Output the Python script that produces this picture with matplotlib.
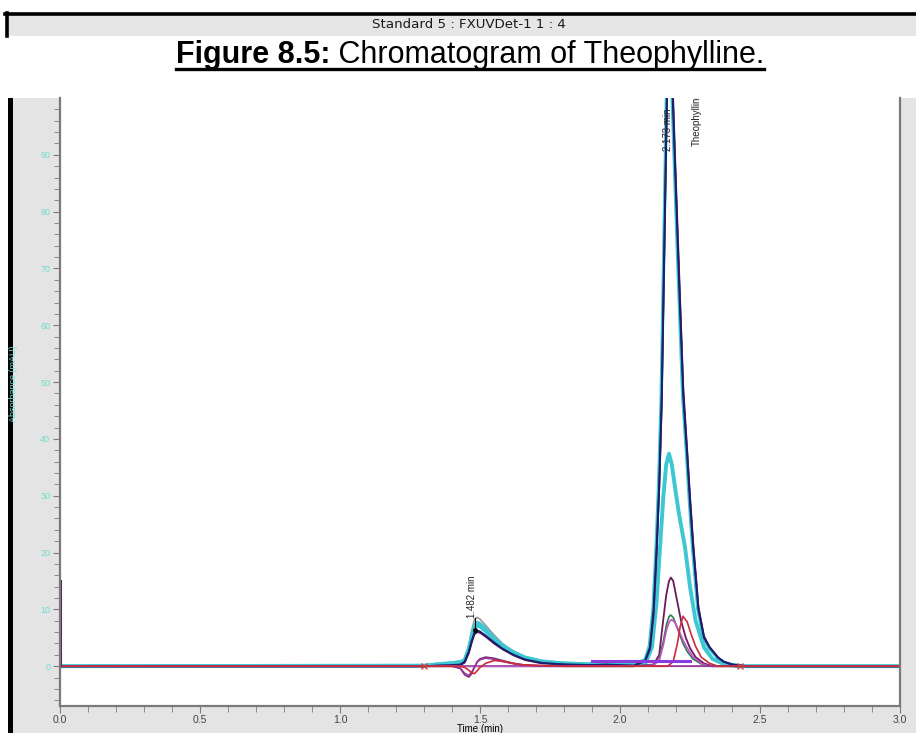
import matplotlib
matplotlib.use("Agg")
import matplotlib.pyplot as plt
import numpy as np
from matplotlib.patches import Rectangle
from matplotlib.lines import Line2D

plt.rcParams['font.family'] = ['Liberation Sans', 'DejaVu Sans']

# ---------------- data ----------------
header_text = "Standard 5 : FXUVDet-1 1 : 4"
title_bold = "Figure 8.5:"
title_rest = " Chromatogram of Theophylline."
x_ticks = [0.0, 0.5, 1.0, 1.5, 2.0, 2.5, 3.0]
y_ticks = [0, 10, 20, 30, 40, 50, 60, 70, 80, 90]

# peak-1 region (~1.48 min), shared times
t1 = [0.0, 1.30, 1.35, 1.40, 1.43, 1.445, 1.46, 1.47, 1.48, 1.49, 1.50, 1.52, 1.55,
      1.58, 1.62, 1.66, 1.72, 1.80, 1.90, 1.95, 2.00, 2.05]
navy_p1   = [0, 0, 0.1, 0.2, 0.3, 0.8, 2.6, 4.4, 5.9, 6.3, 6.1, 5.4, 4.2, 3.1, 2.0, 1.2, 0.6, 0.3, 0.2, 0.3, 0.2, 0.1]
navy2_p1  = [0, 0, 0.1, 0.1, 0.2, 0.6, 2.3, 4.1, 5.6, 6.0, 5.9, 5.2, 4.0, 3.0, 1.9, 1.1, 0.5, 0.3, 0.2, 0.2, 0.1, 0.1]
cyan_p1   = [0, 0.1, 0.4, 0.6, 0.8, 1.1, 3.2, 5.4, 7.1, 7.7, 7.5, 6.6, 5.0, 3.7, 2.5, 1.6, 0.9, 0.5, 0.4, 0.8, 0.5, 0.2]
cyan2_p1  = [0, 0.1, 0.3, 0.5, 0.7, 1.0, 3.0, 5.0, 6.7, 7.2, 7.0, 6.2, 4.8, 3.5, 2.4, 1.5, 0.8, 0.5, 0.3, 0.6, 0.4, 0.2]
gray_p1   = [0, 0, 0.1, 0.3, 0.5, 1.0, 3.5, 6.2, 8.2, 8.6, 8.3, 7.2, 5.5, 4.0, 2.6, 1.6, 0.8, 0.4, 0.2, 0.2, 0.1, 0.1]
purple_p1 = [0, 0, 0, 0, -0.4, -1.5, -1.9, -1.3, -0.2, 0.8, 1.3, 1.6, 1.4, 1.0, 0.5, 0.2, 0.1, 0, 0, 0, 0, 0]
violet_p1 = [0, 0, 0, 0, -0.3, -1.2, -1.6, -1.0, -0.1, 0.7, 1.1, 1.4, 1.2, 0.8, 0.4, 0.2, 0.1, 0, 0, 0, 0, 0]
red_p1    = [0, 0, 0, 0, 0, -0.2, -0.7, -1.2, -1.3, -0.8, -0.2, 0.5, 1.0, 0.9, 0.5, 0.2, 0.1, 0, 0, 0, 0, 0]

# peak-2 region (~2.17 min), each trace with its own times
navy_t2 = [2.05, 2.09, 2.107, 2.12, 2.131, 2.14, 2.149, 2.158, 2.167, 2.174, 2.18, 2.189, 2.20,
           2.21, 2.226, 2.24, 2.25, 2.261, 2.28, 2.30, 2.32, 2.35, 2.37, 2.40, 2.45, 3.0]
navy_p2  = [0.1, 1.0, 3.3, 10, 21, 32, 47.5, 73, 99, 120, 117, 99, 83, 69, 47.5, 37, 29, 21, 10, 5, 3.3, 1.5, 0.8, 0.3, 0, 0]
navy2_p2 = [0.1, 0.9, 3.0, 9, 20, 31, 46, 72, 98, 119, 119, 101, 85, 71, 49, 38, 30, 22, 10.5, 5.3, 3.4, 1.6, 0.8, 0.3, 0, 0]
cyanT_t2 = [2.05, 2.09, 2.105, 2.118, 2.129, 2.138, 2.147, 2.156, 2.165, 2.172, 2.178, 2.187, 2.198,
            2.208, 2.224, 2.238, 2.248, 2.259, 2.278, 2.298, 2.318, 2.35, 2.37, 2.40, 2.45, 3.0]
cyanT_p2 = [0.2, 1.2, 3.6, 10, 21, 32, 47, 72, 98, 118, 116, 99, 83, 69, 47.5, 37, 29, 21, 10, 5, 3.2, 1.4, 0.7, 0.3, 0, 0]

cyan37_t2 = [2.05, 2.09, 2.114, 2.13, 2.143, 2.155, 2.165, 2.175, 2.185, 2.195, 2.21, 2.232,
             2.25, 2.27, 2.30, 2.33, 2.37, 2.42, 3.0]
cyan37_p2 = [0.2, 0.4, 3.3, 11, 21, 30, 35.5, 37.4, 35.5, 32, 27, 21, 14, 8, 3.3, 1.3, 0.4, 0, 0]

purple_t2 = [2.05, 2.12, 2.14, 2.154, 2.165, 2.175, 2.182, 2.19, 2.20, 2.218, 2.235, 2.25, 2.27, 2.30, 2.33, 3.0]
purple_p2 = [0, 0.3, 2.0, 8.0, 12.5, 15.0, 15.6, 15.0, 12.5, 8.0, 5.0, 3.2, 1.6, 0.5, 0, 0]

green_t2 = [2.05, 2.12, 2.14, 2.155, 2.167, 2.175, 2.181, 2.19, 2.21, 2.225, 2.24, 2.26, 2.29, 2.32, 3.0]
green_p2 = [0, 0.2, 1.2, 4.5, 7.5, 8.7, 9.0, 8.6, 6.0, 4.0, 2.6, 1.3, 0.4, 0, 0]

magenta_t2 = [2.05, 2.12, 2.14, 2.155, 2.167, 2.177, 2.184, 2.195, 2.21, 2.225, 2.24, 2.26, 2.29, 2.32, 3.0]
magenta_p2 = [0, 0.2, 1.0, 3.8, 6.6, 7.9, 8.2, 7.8, 6.3, 4.6, 3.2, 1.7, 0.5, 0, 0]

red_t2 = [2.05, 2.17, 2.19, 2.205, 2.215, 2.225, 2.24, 2.255, 2.27, 2.29, 2.32, 2.35, 3.0]
red_p2 = [0, 0, 0.8, 4.0, 7.0, 8.8, 7.8, 5.5, 3.5, 1.6, 0.5, 0, 0]

flat_t2 = [2.05, 3.0]
flat_p2 = [0, 0]

violet_bar_t = [1.90, 2.25]
violet_bar_y = [0.95, 0.95]

x_marks_t = [1.30, 2.43]
x_marks_y = [0, 0]

spike_t = [0.005, 0.005]
spike_y = [0, 15]

ann1 = ("1.482 min", 1.47, 8.4)
ann2 = ("2.173 min", 2.171, 90.6)
ann3 = ("Theophylline", 2.275, 91.5)

# ---------------- figure ----------------
W, H = 916, 733
fig = plt.figure(figsize=(W / 100, H / 100), dpi=100)
fig.patch.set_facecolor('white')

def fx(px):
    return px / W

def fy(py):
    return 1 - py / H

# header bar
fig.patches.append(Rectangle((fx(6), fy(36)), fx(910), fy(15) - fy(36), transform=fig.transFigure,
                             facecolor='#e6e6e6', edgecolor='none', zorder=-5))
fig.add_artist(Line2D([fx(5), fx(916)], [fy(14), fy(14)], transform=fig.transFigure, color='black', lw=2.6))
fig.add_artist(Line2D([fx(7), fx(7)], [fy(13), fy(36)], transform=fig.transFigure, color='black', lw=2.6))
fig.text(fx(469), fy(25), header_text, ha='center', va='center', fontsize=9.6,
         family=['DejaVu Sans'], color='#1a1a1a')

# title with bold prefix, underline
TS = 22
t_b = fig.text(0, fy(63), title_bold, ha='left', va='baseline', fontsize=TS, fontweight='bold', color='black')
t_r = fig.text(0, fy(63), title_rest, ha='left', va='baseline', fontsize=TS, color='black')
fig.canvas.draw()
r = fig.canvas.get_renderer()
wb = t_b.get_window_extent(r).width
wr = t_r.get_window_extent(r).width
x0 = 470 - (wb + wr) / 2
t_b.set_x(x0 / W)
t_r.set_x((x0 + wb) / W)
fig.add_artist(Line2D([x0 / W, (x0 + wb + wr) / W], [fy(69), fy(69)], transform=fig.transFigure,
                      color='black', lw=2.4))

# gray chart panel and black left band
fig.patches.append(Rectangle((fx(13), 0), fx(903), fy(98), transform=fig.transFigure,
                             facecolor='#e4e4e4', edgecolor='none', zorder=-5))
fig.patches.append(Rectangle((fx(8), 0), fx(5), fy(98), transform=fig.transFigure,
                             facecolor='black', edgecolor='none', zorder=-5))

ax = fig.add_axes([fx(60), fy(706), fx(840), fy(98) - fy(706)])
ax.set_facecolor('white')
ax.set_xlim(0, 3.0)
ax.set_ylim(-7, 100)

for s in ['left', 'bottom', 'right']:
    ax.spines[s].set_color('#7a7a7a')
    ax.spines[s].set_linewidth(1.6)
ax.spines['top'].set_visible(False)

ax.set_xticks(x_ticks)
ax.set_xticklabels([f"{v:.1f}" for v in x_ticks])
ax.set_xticks(np.round(np.arange(0, 3.01, 0.1), 2), minor=True)
ax.set_yticks(y_ticks)
ax.set_yticks(np.arange(-6, 100, 2), minor=True)
ax.tick_params(axis='x', which='major', length=5, color='#7a7a7a', labelsize=7.5, labelcolor='#444444', pad=1.5)
ax.tick_params(axis='x', which='minor', length=4, color='#7a7a7a')
ax.tick_params(axis='y', which='major', length=5, color='#7a7a7a', labelsize=6.5, labelcolor='#6fdccc', pad=2)
ax.tick_params(axis='y', which='minor', length=4, color='#7a7a7a')
ax.set_xlabel("Time (min)", fontsize=7, labelpad=-1)
ax.set_ylabel("Absorbance (mAU)", fontsize=6.5, color='#6fdccc')
ax.yaxis.set_label_coords(-0.05, 0.53)

def full(p1, tp2, p2):
    return list(t1) + list(tp2[1:]), list(p1) + list(p2[1:])

traces = [
    (gray_p1, navy_t2, navy_p2, '#9a9a9a', 1.2),
    (cyan2_p1, cyan37_t2, cyan37_p2, '#3cc7d2', 2.8),
    (cyan_p1, cyanT_t2, cyanT_p2, '#3cc7d2', 2.4),
    (navy2_p1, navy_t2, navy2_p2, '#5a1a5e', 1.3),
    (navy_p1, navy_t2, navy_p2, '#1c1f6e', 1.4),
    ([0] * len(t1), purple_t2, purple_p2, '#6b1a5c', 1.3),
    ([0] * len(t1), green_t2, green_p2, '#2e7d4f', 1.2),
    ([0] * len(t1), magenta_t2, magenta_p2, '#c24fc8', 1.2),
    (purple_p1, flat_t2, flat_p2, '#7a2a7a', 1.2),
    (violet_p1, flat_t2, flat_p2, '#9b3a9b', 1.0),
    (red_p1, red_t2, red_p2, '#cc2b3a', 1.2),
]
for p1, tp2, p2, c, lw in traces:
    tx, ty = full(p1, tp2, p2)
    ax.plot(tx, ty, color=c, lw=lw, solid_joinstyle='round')

ax.plot(violet_bar_t, violet_bar_y, color='#8a3adf', lw=2.2)
ax.plot(spike_t, spike_y, color='#5a2050', lw=1.5)
ax.plot(x_marks_t, x_marks_y, linestyle='none', marker='x', color='#d04040', ms=4, mew=1)

# annotations
ax.text(ann1[1], ann1[2], ann1[0], rotation=90, ha='center', va='bottom', fontsize=7, color='#222222')
ax.plot([1.482, 1.482], [ann1[2], 6.3], color='black', lw=0.8)
ax.plot([1.482], [6.3], marker='o', ms=2.5, color='black')
ax.text(ann2[1], ann2[2], ann2[0], rotation=90, ha='center', va='bottom', fontsize=7, color='#222222', clip_on=True)
ax.text(ann3[1], ann3[2], ann3[0], rotation=90, ha='center', va='bottom', fontsize=7, color='#222222', clip_on=True)

fig.savefig("out.png", dpi=100)
